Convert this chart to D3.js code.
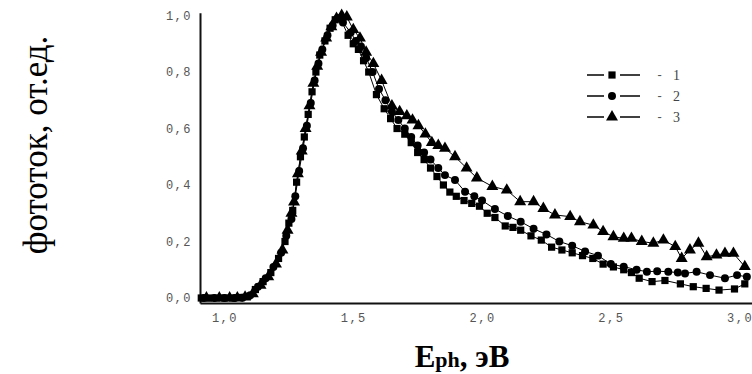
<!DOCTYPE html>
<html>
<head>
<meta charset="utf-8">
<script src="https://cdn.jsdelivr.net/npm/d3@7"></script>
<style>
  body { margin: 0; background: #fff; }
  svg { display: block; }
</style>
</head>
<body>
<script>
// energies (eV) and photocurrent (arb. units)
const energy1 = [0.91, 0.94, 0.97, 1.0, 1.03, 1.06, 1.09, 1.12, 1.15, 1.18, 1.21, 1.235, 1.25, 1.265, 1.28, 1.295, 1.31, 1.325, 1.34, 1.355, 1.37, 1.39, 1.41, 1.43, 1.45, 1.48, 1.50, 1.52, 1.54, 1.56, 1.59, 1.62, 1.645, 1.67, 1.70, 1.725, 1.75, 1.775, 1.80, 1.825, 1.85, 1.875, 1.90, 1.93, 1.96, 1.99, 2.02, 2.05, 2.09, 2.12, 2.15, 2.19, 2.23, 2.27, 2.31, 2.35, 2.39, 2.43, 2.47, 2.51, 2.55, 2.58, 2.61, 2.66, 2.71, 2.77, 2.82, 2.87, 2.92, 2.98, 3.02];
const current1 = [0, 0, 0, 0, 0, 0.002, 0.006, 0.03, 0.058, 0.09, 0.14, 0.2, 0.265, 0.31, 0.41, 0.5, 0.57, 0.65, 0.73, 0.8, 0.86, 0.91, 0.955, 0.985, 0.99, 0.93, 0.9, 0.88, 0.84, 0.8, 0.72, 0.67, 0.635, 0.6, 0.58, 0.55, 0.515, 0.49, 0.46, 0.43, 0.40, 0.375, 0.36, 0.345, 0.335, 0.325, 0.30, 0.285, 0.255, 0.25, 0.24, 0.22, 0.205, 0.18, 0.17, 0.16, 0.15, 0.14, 0.12, 0.11, 0.10, 0.09, 0.07, 0.058, 0.062, 0.05, 0.04, 0.034, 0.028, 0.032, 0.05];

const energy2 = [0.92, 0.96, 1.0, 1.04, 1.07, 1.10, 1.13, 1.16, 1.19, 1.22, 1.24, 1.26, 1.275, 1.29, 1.305, 1.32, 1.335, 1.35, 1.365, 1.38, 1.40, 1.42, 1.44, 1.46, 1.49, 1.51, 1.53, 1.55, 1.575, 1.60, 1.625, 1.65, 1.675, 1.70, 1.725, 1.75, 1.775, 1.80, 1.83, 1.856, 1.895, 1.934, 1.97, 2.0, 2.05, 2.1, 2.15, 2.2, 2.25, 2.3, 2.35, 2.4, 2.45, 2.5, 2.55, 2.6, 2.64, 2.68, 2.723, 2.76, 2.788, 2.833, 2.885, 2.943, 2.99, 3.028];
const current2 = [0, 0, 0, 0, 0.001, 0.01, 0.04, 0.07, 0.11, 0.16, 0.22, 0.28, 0.36, 0.45, 0.53, 0.61, 0.69, 0.77, 0.83, 0.88, 0.93, 0.965, 0.99, 0.975, 0.94, 0.91, 0.89, 0.85, 0.80, 0.74, 0.70, 0.66, 0.63, 0.60, 0.57, 0.54, 0.515, 0.49, 0.46, 0.435, 0.418, 0.376, 0.36, 0.345, 0.315, 0.29, 0.27, 0.245, 0.225, 0.2, 0.185, 0.165, 0.15, 0.12, 0.111, 0.1, 0.093, 0.095, 0.093, 0.09, 0.087, 0.093, 0.081, 0.07, 0.081, 0.075];

const energy3 = [0.93, 0.98, 1.02, 1.05, 1.08, 1.11, 1.14, 1.17, 1.20, 1.225, 1.245, 1.26, 1.27, 1.285, 1.30, 1.315, 1.33, 1.345, 1.36, 1.375, 1.395, 1.415, 1.435, 1.455, 1.475, 1.50, 1.526, 1.55, 1.578, 1.61, 1.65, 1.68, 1.708, 1.73, 1.753, 1.78, 1.805, 1.83, 1.856, 1.895, 1.94, 1.98, 2.04, 2.096, 2.148, 2.2, 2.238, 2.283, 2.342, 2.38, 2.432, 2.47, 2.51, 2.55, 2.58, 2.62, 2.665, 2.704, 2.75, 2.775, 2.807, 2.84, 2.872, 2.91, 2.943, 2.976, 3.02];
const current3 = [0, 0, 0, 0, 0.003, 0.015, 0.045, 0.075, 0.12, 0.17, 0.24, 0.3, 0.34, 0.44, 0.52, 0.6, 0.68, 0.76, 0.82, 0.87, 0.92, 0.96, 0.99, 1.0, 0.995, 0.95, 0.92, 0.87, 0.83, 0.77, 0.68, 0.66, 0.645, 0.63, 0.61, 0.58, 0.55, 0.54, 0.53, 0.50, 0.46, 0.425, 0.395, 0.382, 0.341, 0.341, 0.317, 0.294, 0.288, 0.27, 0.258, 0.235, 0.217, 0.211, 0.211, 0.2, 0.194, 0.205, 0.182, 0.14, 0.17, 0.194, 0.146, 0.152, 0.158, 0.158, 0.111];

const seriesNames = ["1", "2", "3"];
const xTicks = [1.0, 1.5, 2.0, 2.5, 3.0];
const yTicks = [0.0, 0.2, 0.4, 0.6, 0.8, 1.0];

const series = [
  { name: seriesNames[0], shape: "square", pts: energy1.map((e, i) => [e, current1[i]]) },
  { name: seriesNames[1], shape: "circle", pts: energy2.map((e, i) => [e, current2[i]]) },
  { name: seriesNames[2], shape: "triangle", pts: energy3.map((e, i) => [e, current3[i]]) }
];

const width = 752, height = 374;

const svg = d3.select("body").append("svg")
  .attr("width", width)
  .attr("height", height);

const x = d3.scaleLinear().domain([0.905, 3.048]).range([200, 752]);
const y = d3.scaleLinear().domain([-0.0177, 1.01]).range([303, 12.7]);

const comma = d => d3.format(".1f")(d).replace(".", ",");

// axes
const gx = svg.append("g")
  .attr("transform", "translate(0,303)")
  .call(d3.axisBottom(x).tickValues(xTicks).tickFormat(comma).tickSize(0).tickPadding(10));
const gy = svg.append("g")
  .attr("transform", "translate(200,0)")
  .call(d3.axisLeft(y).tickValues(yTicks).tickFormat(comma).tickSize(0).tickPadding(8));

[gx, gy].forEach(g => {
  g.select(".domain").attr("stroke", "#111").attr("stroke-width", 2);
  g.selectAll("text")
    .attr("font-family", "Liberation Mono, monospace")
    .attr("font-size", 12)
    .attr("letter-spacing", 1.5)
    .attr("fill", "#555");
});

// marker symbols
const sym = {
  square: d3.symbol().type(d3.symbolSquare).size(52),
  circle: d3.symbol().type(d3.symbolCircle).size(50),
  triangle: d3.symbol().type(d3.symbolTriangle).size(62)
};

const line = d3.line().x(d => x(d[0])).y(d => y(d[1]));

const plot = svg.append("g");

series.forEach(s => {
  plot.append("path")
    .attr("d", line(s.pts))
    .attr("fill", "none")
    .attr("stroke", "#000")
    .attr("stroke-width", 1);
});

series.forEach(s => {
  plot.append("g")
    .selectAll("path")
    .data(s.pts)
    .join("path")
    .attr("transform", d => `translate(${x(d[0])},${y(d[1])})`)
    .attr("d", sym[s.shape]())
    .attr("fill", "#000");
});

// legend
const legend = svg.append("g");
series.forEach((s, i) => {
  const ly = 75 + i * 21;
  legend.append("line").attr("x1", 587).attr("x2", 604).attr("y1", ly).attr("y2", ly)
    .attr("stroke", "#000").attr("stroke-width", 1.5);
  legend.append("line").attr("x1", 620).attr("x2", 640).attr("y1", ly).attr("y2", ly)
    .attr("stroke", "#000").attr("stroke-width", 1.5);
  legend.append("path")
    .attr("transform", `translate(612,${ly})`)
    .attr("d", sym[s.shape]())
    .attr("fill", "#000");
  legend.append("text")
    .attr("x", 656).attr("y", ly).attr("dy", "0.35em")
    .attr("font-family", "Liberation Mono, monospace")
    .attr("font-size", 12)
    .attr("fill", "#555")
    .text("-");
  legend.append("text")
    .attr("x", 673).attr("y", ly).attr("dy", "0.35em")
    .attr("font-family", "Liberation Serif, serif")
    .attr("font-size", 14)
    .attr("fill", "#444")
    .text(s.name);
});

// axis titles
svg.append("text")
  .attr("transform", "translate(47,145) rotate(-90)")
  .attr("text-anchor", "middle")
  .attr("font-family", "Liberation Serif, serif")
  .attr("font-size", 35)
  .attr("fill", "#000")
  .text("фототок, от.ед.");

const xt = svg.append("text")
  .attr("x", 462).attr("y", 367)
  .attr("text-anchor", "middle")
  .attr("font-family", "Liberation Serif, serif")
  .attr("font-weight", "bold")
  .attr("font-size", 31)
  .attr("fill", "#000");
xt.append("tspan").text("E");
xt.append("tspan").attr("font-size", 22).text("ph");
xt.append("tspan").text(", эВ");
</script>
</body>
</html>
